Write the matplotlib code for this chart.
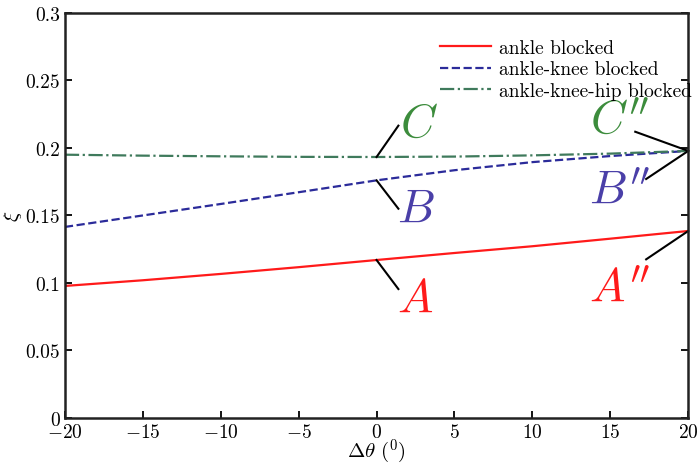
import matplotlib
matplotlib.use('Agg')
import matplotlib.pyplot as plt

plt.rcParams['font.family'] = 'cmr10'
plt.rcParams['mathtext.fontset'] = 'cm'
plt.rcParams['axes.formatter.use_mathtext'] = True

# data
dtheta = [-20, -15, -10, -5, 0, 5, 10, 15, 20]
ankle = [0.0978, 0.1020, 0.1067, 0.1117, 0.1170, 0.1222, 0.1272, 0.1328, 0.1385]
ankle_knee = [0.1415, 0.1500, 0.1585, 0.1672, 0.1760, 0.1835, 0.1895, 0.1940, 0.1978]
ankle_knee_hip = [0.1950, 0.1943, 0.1938, 0.1934, 0.1933, 0.1936, 0.1945, 0.1958, 0.1978]

labels = ['ankle blocked', 'ankle-knee blocked', 'ankle-knee-hip blocked']
colors = ['#ff1a1a', '#2b2b9a', '#3f7a5c']
text_colors = ['#ff1a1a', '#4a3fa8', '#3c8c3c']

# annotations: (text, point on curve, end of leader line, text position, colour index)
notes = [
    ('A', (0, 0.117), (1.4, 0.0955), (2.5, 0.088), 0),
    ("A''", (20, 0.1385), (17.3, 0.1175), (15.6, 0.096), 0),
    ('B', (0, 0.176), (1.4, 0.155), (2.5, 0.155), 1),
    ("B''", (20, 0.1978), (17.3, 0.1770), (15.6, 0.169), 1),
    ('C', (0, 0.1933), (1.4, 0.2165), (2.7, 0.218), 2),
    ("C''", (20, 0.1978), (16.6, 0.212), (15.6, 0.221), 2),
]

fig = plt.figure(figsize=(6.98, 4.64), dpi=100)
ax = fig.add_axes([0.093, 0.097, 0.893, 0.873])

ax.plot(dtheta, ankle, '-', color=colors[0], lw=1.6, label=labels[0])
ax.plot(dtheta, ankle_knee, '--', color=colors[1], lw=1.6, label=labels[1])
ax.plot(dtheta, ankle_knee_hip, '-.', color=colors[2], lw=1.6, label=labels[2])

for txt, p, q, t, c in notes:
    ax.plot([p[0], q[0]], [p[1], q[1]], color='k', lw=1.5, clip_on=False)
    ax.text(t[0], t[1], '$' + txt + '$', color=text_colors[c],
            fontsize=34, ha='center', va='center')

ax.set_xlim(-20, 20)
ax.set_ylim(0, 0.3)
ax.set_xticks(range(-20, 21, 5))
ax.set_yticks([0, 0.05, 0.1, 0.15, 0.2, 0.25, 0.3])
ax.set_yticklabels(['0', '0.05', '0.1', '0.15', '0.2', '0.25', '0.3'])
ax.tick_params(direction='in', length=5, width=1.3, labelsize=14, top=False, right=True)
for s in ax.spines.values():
    s.set_linewidth(1.8)
    s.set_color('#222222')

ax.set_xlabel(r'$\Delta\theta\ (^0)$', fontsize=15, labelpad=-3)
ax.set_ylabel(r'$\xi$', fontsize=15, labelpad=1)

ax.legend(loc='upper right', bbox_to_anchor=(1.027, 0.97), frameon=False, fontsize=14,
          handlelength=2.6, labelspacing=0.2, borderpad=0.2, handletextpad=0.4)

fig.savefig('out.png', dpi=100)
